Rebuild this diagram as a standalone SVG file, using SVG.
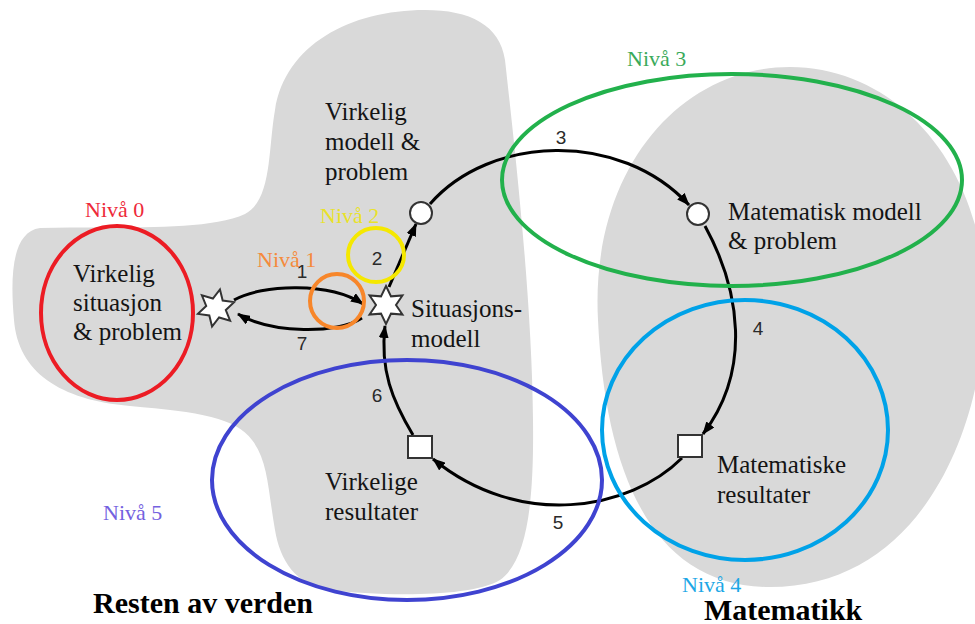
<svg xmlns="http://www.w3.org/2000/svg" width="975" height="624" viewBox="0 0 975 624">
  <defs>
    <marker id="head" viewBox="0 0 13 10" refX="12" refY="5" markerWidth="13" markerHeight="10" markerUnits="userSpaceOnUse" orient="auto">
      <path d="M0,0 L13,5 L0,10 z" fill="#000"/>
    </marker>
    <polygon id="star" points="0,-19 5,-8.66 16.45,-9.5 10,0 16.45,9.5 5,8.66 0,19 -5,8.66 -16.45,9.5 -10,0 -16.45,-9.5 -5,-8.66"/>
  </defs>
  <style>
    .region { fill: #d9d9d9; stroke: none; }
    .txt { font-family: "Liberation Serif", "Times New Roman", serif; font-size: 25px; fill: #141414; }
    .lvl { font-family: "Liberation Serif", "Times New Roman", serif; font-size: 22px; }
    .big { font-family: "Liberation Serif", "Times New Roman", serif; font-size: 30px; font-weight: bold; fill: #000; }
    .num { font-family: "Liberation Sans", Arial, sans-serif; font-size: 19px; fill: #2a2a2a; text-anchor: middle; }
    .arrow { fill: none; stroke: #000; stroke-width: 3; marker-end: url(#head); }
    .node { fill: #fff; stroke: #333; stroke-width: 2; }
    .ring { fill: none; stroke-width: 4; }
  </style>

  <rect width="975" height="624" fill="#fff"/>

  <!-- grey regions: the real world (left) and mathematics (right) -->
  <g id="world-region">
    <path class="region" d="M40,228 C120,226 205,232 245,214 C272,200 268,150 275,110 C285,45 350,10 425,10 C470,10 500,25 505,60 C515,150 532,300 533,420 C534,500 528,560 500,580 C470,598 380,596 330,590 C295,585 280,560 275,530 C268,490 268,460 252,440 C236,418 200,412 130,406 C60,400 18,372 14,320 C10,275 12,232 40,228 Z"/>
  </g>
  <g id="math-region">
    <path class="region" d="M598,320 C590,170 680,67 790,67 C900,67 985,170 985,300 C985,430 920,587 770,587 C650,587 605,470 598,320 Z"/>
  </g>

  <!-- connectors -->
  <g id="connectors">
    <path class="arrow" d="M234,300 C262,284 330,282 363,304"/>
    <path class="arrow" d="M362,318 C338,334 272,334 238,314"/>
    <path class="arrow" d="M389,287 L416,224"/>
    <path class="arrow" d="M430,204 C490,135 620,130 689,205"/>
    <path class="arrow" d="M705,226 C740,290 752,370 703,434"/>
    <path class="arrow" d="M682,458 C630,510 520,530 433,459"/>
    <path class="arrow" d="M413,435 C392,400 380,370 385,326"/>
    <text class="num" x="302" y="278">1</text>
    <text class="num" x="377" y="265">2</text>
    <text class="num" x="561" y="144">3</text>
    <text class="num" x="758" y="335">4</text>
    <text class="num" x="558" y="529">5</text>
    <text class="num" x="377" y="402">6</text>
    <text class="num" x="302" y="350">7</text>
  </g>

  <!-- nodes -->
  <g id="real-situation">
    <use href="#star" class="node" transform="translate(216,308) rotate(12)"/>
    <text class="txt" x="73" y="282">Virkelig</text>
    <text class="txt" x="73" y="311">situasjon</text>
    <text class="txt" x="73" y="340">&amp; problem</text>
  </g>
  <g id="situation-model">
    <use href="#star" class="node" transform="translate(386,305)"/>
    <text class="txt" x="411" y="317">Situasjons-</text>
    <text class="txt" x="411" y="347">modell</text>
  </g>
  <g id="real-model">
    <circle class="node" cx="421" cy="213" r="11"/>
    <text class="txt" x="325" y="120">Virkelig</text>
    <text class="txt" x="325" y="150">modell &amp;</text>
    <text class="txt" x="325" y="180">problem</text>
  </g>
  <g id="math-model">
    <circle class="node" cx="698" cy="214" r="11"/>
    <text class="txt" x="728" y="220">Matematisk modell</text>
    <text class="txt" x="728" y="249">&amp; problem</text>
  </g>
  <g id="math-results">
    <rect class="node" x="678" y="435" width="24" height="22"/>
    <text class="txt" x="717" y="473">Matematiske</text>
    <text class="txt" x="717" y="503">resultater</text>
  </g>
  <g id="real-results">
    <rect class="node" x="408" y="436" width="24" height="22"/>
    <text class="txt" x="325" y="490">Virkelige</text>
    <text class="txt" x="325" y="520">resultater</text>
  </g>

  <!-- competence levels -->
  <g id="level-0">
    <ellipse class="ring" cx="117" cy="313" rx="76" ry="87" stroke="#ec1c24"/>
    <text class="lvl" x="85" y="217" fill="#ee2a3a">Nivå 0</text>
  </g>
  <g id="level-1">
    <circle class="ring" cx="337" cy="301" r="27" stroke="#f7862a"/>
    <text class="lvl" x="257" y="267" fill="#f58a3c">Nivå 1</text>
  </g>
  <g id="level-2">
    <ellipse class="ring" cx="376" cy="255" rx="28" ry="27" stroke="#f5e800"/>
    <text class="lvl" x="320" y="223" fill="#e9e22a">Nivå 2</text>
  </g>
  <g id="level-3">
    <ellipse class="ring" cx="732" cy="180" rx="230" ry="106" stroke="#22b14c"/>
    <text class="lvl" x="627" y="66" fill="#3aaa5a">Nivå 3</text>
  </g>
  <g id="level-4">
    <ellipse class="ring" cx="745" cy="430" rx="143" ry="130" stroke="#00a2e8"/>
    <text class="lvl" x="682" y="592" fill="#1da7e6">Nivå 4</text>
  </g>
  <g id="level-5">
    <ellipse class="ring" cx="407" cy="480" rx="195" ry="120" stroke="#3f43d0"/>
    <text class="lvl" x="103" y="520" fill="#7461e0">Nivå 5</text>
  </g>

  <!-- region titles -->
  <text class="big" x="93" y="613">Resten av verden</text>
  <text class="big" x="704" y="620">Matematikk</text>
</svg>
